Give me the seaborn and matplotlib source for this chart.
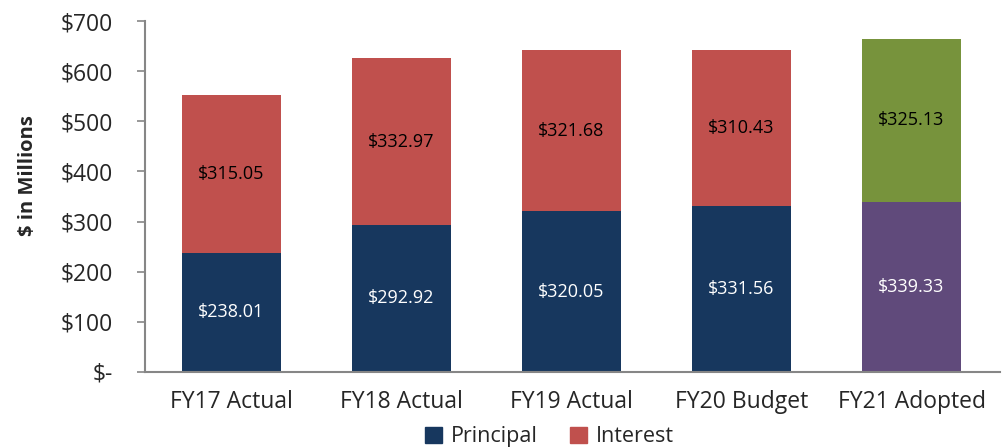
import matplotlib
matplotlib.use("Agg")
import matplotlib.pyplot as plt
import matplotlib.patches as mpatches
import seaborn as sns
import pandas as pd

categories = ["FY17 Actual", "FY18 Actual", "FY19 Actual", "FY20 Budget", "FY21 Adopted"]
principal = [238.01, 292.92, 320.05, 331.56, 339.33]
interest = [315.05, 332.97, 321.68, 310.43, 325.13]
principal_colors = ["#17375E", "#17375E", "#17375E", "#17375E", "#604A7B"]
interest_colors = ["#C0504D", "#C0504D", "#C0504D", "#C0504D", "#77933C"]
yticks = [0, 100, 200, 300, 400, 500, 600, 700]
ytick_labels = ["$-", "$100", "$200", "$300", "$400", "$500", "$600", "$700"]

sns.set_theme(style="white")
plt.rcParams["font.family"] = ["Open Sans", "DejaVu Sans"]

df = pd.DataFrame({
    "category": categories,
    "principal": principal,
    "interest": interest,
})
df["total"] = df["principal"] + df["interest"]

fig = plt.figure(figsize=(10.02, 4.48), dpi=100)
ax = fig.add_axes([0.145, 0.17, 0.853, 0.783])

bar_w = 0.58
sns.barplot(data=df, x="category", y="total", hue="category",
            palette=interest_colors, width=bar_w, legend=False,
            saturation=1, ax=ax, linewidth=0)
sns.barplot(data=df, x="category", y="principal", hue="category",
            palette=principal_colors, width=bar_w, legend=False,
            saturation=1, ax=ax, linewidth=0)

for i, (p, it) in enumerate(zip(principal, interest)):
    ax.text(i, p / 2, f"${p:.2f}", ha="center", va="center",
            color="white", fontsize=13)
    ax.text(i, p + it / 2, f"${it:.2f}", ha="center", va="center",
            color="black", fontsize=13)

ax.set_xlim(-0.505, 4.52)
ax.set_ylim(0, 700)
ax.set_yticks(yticks)
ax.set_yticklabels(ytick_labels, fontsize=16.5)
ax.tick_params(axis="x", labelsize=16.5, length=0, pad=13)
ax.tick_params(axis="y", left=True, length=6, color="#868686", width=1.2, pad=17)
ax.set_xlabel("")
ax.set_ylabel("$ in Millions", fontsize=14.5, fontweight="bold")
ax.yaxis.set_label_coords(-0.126, 0.56)

for side in ["top", "right"]:
    ax.spines[side].set_visible(False)
for side in ["left", "bottom"]:
    ax.spines[side].set_color("#868686")
    ax.spines[side].set_linewidth(1.5)

handles = [mpatches.Patch(color="#17375E", label="Principal"),
           mpatches.Patch(color="#C0504D", label="Interest")]
fig.legend(handles=handles, loc="center", bbox_to_anchor=(0.548, 0.025),
           ncol=2, frameon=False, fontsize=15.5, handlelength=0.8,
           handleheight=0.8, handletextpad=0.4, columnspacing=1.5)

fig.savefig("out.png", dpi=100)
